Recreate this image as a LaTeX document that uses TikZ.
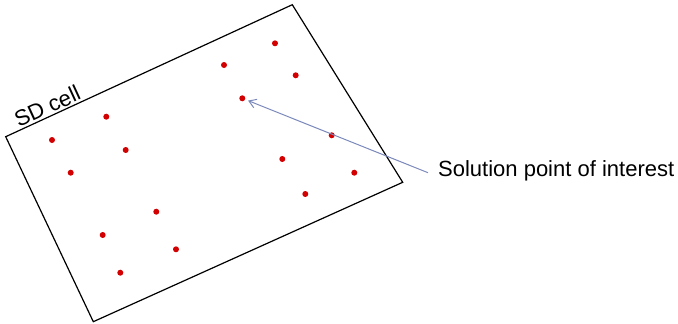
\documentclass[tikz,border=0pt]{standalone}
\usepackage{fontspec}
\setmainfont{Liberation Sans}
\usetikzlibrary{arrows.meta,positioning}
\definecolor{dotred}{RGB}{210,0,0}
\definecolor{pointerblue}{RGB}{122,136,186}
\tikzset {
  >={Straight Barb[length=7pt,width=9pt]},
  every node/.style={font=\fontsize{22}{26}\selectfont},
  dot/.style={circle,fill=dotred,inner sep=0pt,minimum size=6pt},
  cellborder/.style={line width=1.2pt,line join=miter},
  pointer/.style={->,pointerblue,line width=1pt,shorten >=3pt},
}

\begin{document}
\begin{tikzpicture}[x=1pt,y=-1pt]
  \useasboundingbox (0,0) rectangle (678,324);
  \coordinate (c1) at (5.7,136.7);
  \coordinate (c2) at (292.3,4.7);
  \coordinate (c3) at (402.7,182.3);
  \coordinate (c4) at (93.3,321.7);
  \draw[cellborder] (c1) -- (c2) -- (c3) -- (c4) -- cycle;
  \path (c1) -- (c2) node[pos=.16,sloped,above=2pt,inner sep=0pt] (cell) {SD cell};
  \foreach \n/\px/\py in {1/275/43.3, 2/224/65, 3/295.7/75.3, 4/242.3/98.3,
      5/106.3/116.7, 6/331.7/135.3, 7/52/140, 8/125.7/150, 9/282.3/159,
      10/70.7/172.7, 11/354.3/172.7, 12/305.3/194, 13/156.3/211.7,
      14/102.7/235, 15/176/249.3, 16/120.3/272.7}
    \node[dot] (p\n) at (\px,\py) {};
  \node[anchor=base west,inner sep=0pt] (soi) at (438,176) {Solution point of interest};
  \coordinate (tail) at ([xshift=-10pt,yshift=3.3pt]soi.base west);
  \draw[pointer] (tail) -- (p4);
  %\node[dot] at (p6) {};
\end{tikzpicture}
\end{document}
